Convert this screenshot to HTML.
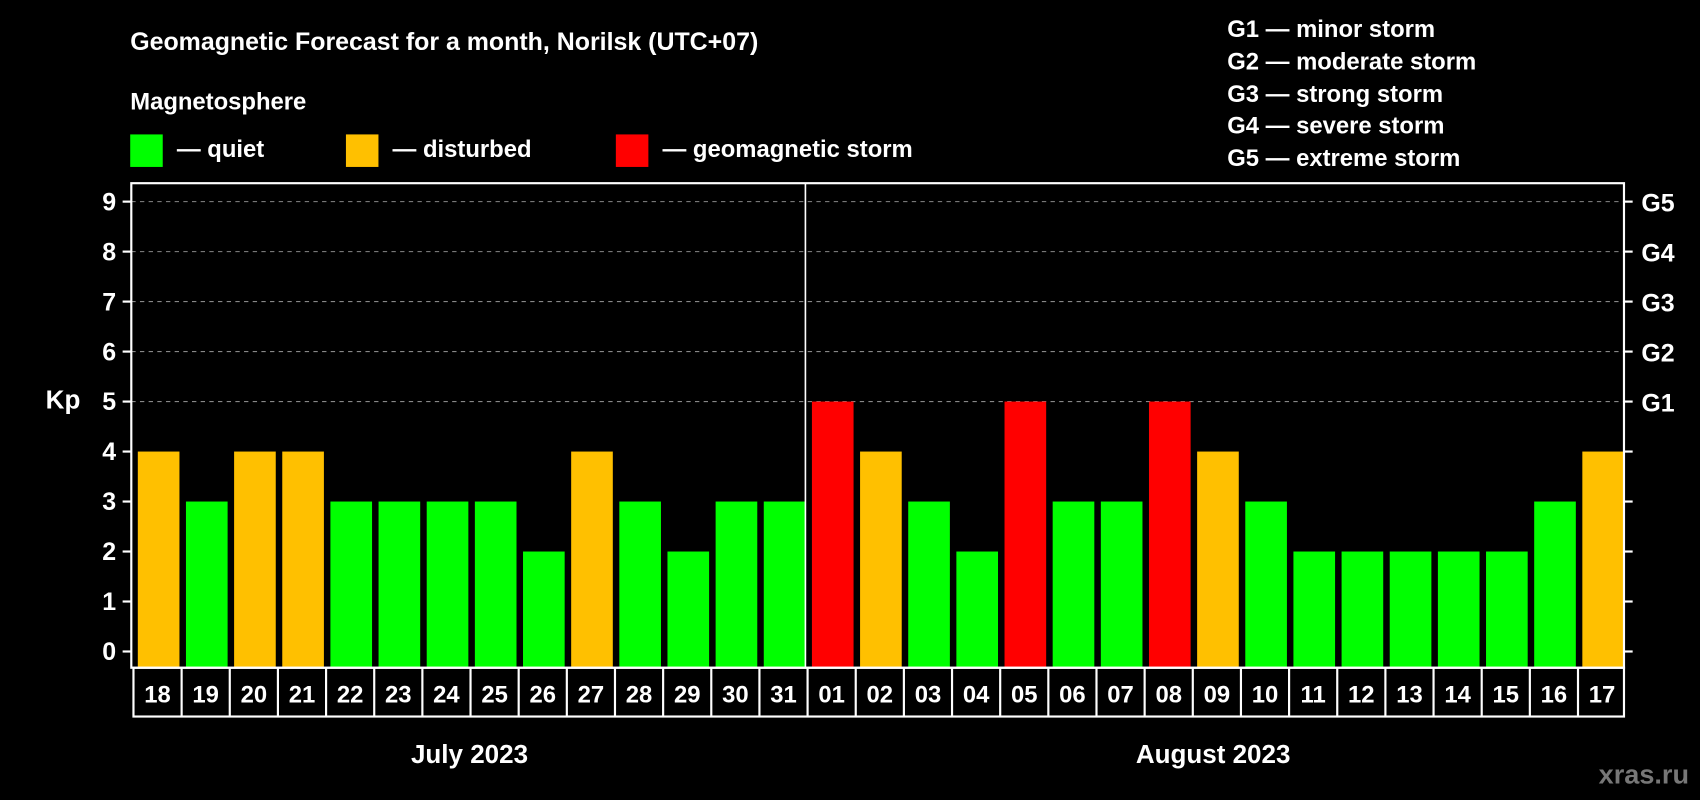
<!DOCTYPE html>
<html><head><meta charset="utf-8"><style>
html,body{margin:0;padding:0;background:#000;width:1700px;height:800px;overflow:hidden}
svg{display:block;font-family:"Liberation Sans",Arial,sans-serif;font-weight:bold}
</style></head><body>
<svg id="chart" width="1700" height="800" viewBox="0 0 1568 738" xmlns="http://www.w3.org/2000/svg">
<rect width="1568" height="738" fill="#000"/>
<text x="120" y="46" fill="#fff" font-size="23">Geomagnetic Forecast for a month, Norilsk (UTC+07)</text>
<text x="120" y="101" fill="#fff" font-size="22">Magnetosphere</text>
<g><rect x="120" y="124" width="30" height="30" fill="#00ff00"/><text x="163" y="145" fill="#fff" font-size="22">— quiet</text></g>
<g><rect x="319" y="124" width="30" height="30" fill="#ffc000"/><text x="362" y="145" fill="#fff" font-size="22">— disturbed</text></g>
<g><rect x="568" y="124" width="30" height="30" fill="#ff0000"/><text x="611" y="145" fill="#fff" font-size="22">— geomagnetic storm</text></g>
<g fill="#fff" font-size="22">
<text x="1132" y="34">G1 — minor storm</text>
<text x="1132" y="64">G2 — moderate storm</text>
<text x="1132" y="94">G3 — strong storm</text>
<text x="1132" y="123">G4 — severe storm</text>
<text x="1132" y="153">G5 — extreme storm</text>
</g>
<text x="58" y="377" fill="#fff" font-size="24" text-anchor="middle">Kp</text>
<g id="grid"></g><g id="bars"></g><g id="axes"></g>
<text x="433" y="704" fill="#fff" font-size="24" text-anchor="middle">July 2023</text>
<text x="1119" y="704" fill="#fff" font-size="24" text-anchor="middle">August 2023</text>
<text x="1558" y="723" fill="#777" font-size="25" text-anchor="end">xras.ru</text>
</svg>
<script>
const days=["18","19","20","21","22","23","24","25","26","27","28","29","30","31","01","02","03","04","05","06","07","08","09","10","11","12","13","14","15","16","17"];
const kp=[4,3,4,4,3,3,3,3,2,4,3,2,3,3,5,4,3,2,5,3,3,5,4,3,2,2,2,2,2,3,4];
const yTicks=["0","1","2","3","4","5","6","7","8","9"];
const gLabels=["G1","G2","G3","G4","G5"];
const NS="http://www.w3.org/2000/svg";
const L=121,R=1498,T=169,B=616,Y0=601,Y9=186;
const slot=(R-L)/days.length;
const y=v=>Y0-(Y0-Y9)*v/9;
const x=i=>L+i*slot;
function mk(tag,attrs,parent,text){const e=document.createElementNS(NS,tag);for(const k in attrs)e.setAttribute(k,attrs[k]);if(text!==undefined)e.textContent=text;document.getElementById(parent).appendChild(e);return e;}
yTicks.forEach((t,i)=>{
 const v=+t,yy=y(v);
 if(v>=5){const g=mk('line',{x1:L,x2:R,y1:yy,y2:yy,stroke:'#888','stroke-dasharray':'4,4','stroke-width':1},'grid');
 
 }
 const tl=mk('line',{x1:L-8,x2:L,y1:yy,y2:yy,stroke:'#fff','stroke-width':2},'axes');
 
 
 const tr=mk('line',{x1:R,x2:R+8,y1:yy,y2:yy,stroke:'#fff','stroke-width':2},'axes');
 
 
 const lb=mk('text',{x:L-14,y:yy+8,fill:'#fff','font-size':23,'text-anchor':'end'},'axes',t);
 
 
});
gLabels.forEach((g,i)=>{
 const e=mk('text',{x:R+16,y:y(5+i)+9,fill:'#fff','font-size':23},'axes',g);
 
 
});
kp.forEach((v,i)=>{
 const c=v>=5?'#ff0000':(v>=4?'#ffc000':'#00ff00');
 const b=mk('rect',{x:x(i)+6,y:y(v),width:slot-6,height:B-y(v),fill:c},'bars');
 
 
 const d=mk('text',{x:x(i)+slot/2+2,y:648,fill:'#fff','font-size':22,'text-anchor':'middle'},'axes',days[i]);
 
 
 if(i>0){const s=mk('line',{x1:x(i)+2,x2:x(i)+2,y1:B,y2:661,stroke:'#fff','stroke-width':2},'axes');
 
 }
});
const fr=mk('rect',{x:L,y:T,width:R-L,height:B-T,fill:'none',stroke:'#fff','stroke-width':2},'axes');


const db=mk('rect',{x:L+2,y:B,width:R-L-2,height:661-B,fill:'none',stroke:'#fff','stroke-width':2},'axes');


const ms=mk('line',{x1:x(14),x2:x(14),y1:T,y2:B,stroke:'#fff','stroke-width':1.5},'axes');


</script>
</body></html>
